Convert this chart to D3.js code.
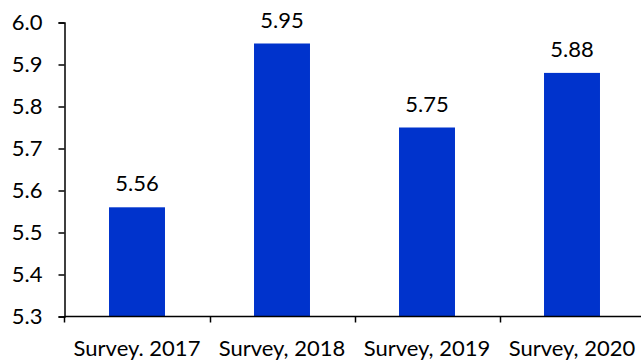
<!DOCTYPE html>
<html>
<head>
<meta charset="utf-8">
<script src="https://cdn.jsdelivr.net/npm/d3@7/dist/d3.min.js"></script>
<style>
  html, body { margin: 0; padding: 0; background: #fff; }
  svg { display: block; }
  text { font-family: Lato, "Open Sans", sans-serif; fill: #000; }
</style>
</head>
<body>
<svg id="chart" width="641" height="364"></svg>
<script>
// Survey results by year
const categories = ["Survey. 2017", "Survey, 2018", "Survey, 2019", "Survey, 2020"];
const values = [5.56, 5.95, 5.75, 5.88];
const yTicks = [5.3, 5.4, 5.5, 5.6, 5.7, 5.8, 5.9, 6.0];

const svg = d3.select("#chart");
const fontSize = 22;

const x = d3.scaleBand()
  .domain(categories)
  .range([64.5, 644.5])
  .paddingInner(0.614)
  .paddingOuter(0.307);

const y = d3.scaleLinear()
  .domain([5.3, 6.0])
  .range([316.5, 22.5]);

// bars
svg.append("g")
  .selectAll("rect")
  .data(values)
  .join("rect")
  .attr("x", (d, i) => x(categories[i]))
  .attr("y", d => y(d))
  .attr("width", x.bandwidth())
  .attr("height", d => y(5.3) - y(d))
  .attr("fill", "#0033cc");

// value labels
svg.append("g")
  .selectAll("text")
  .data(values)
  .join("text")
  .attr("x", (d, i) => x(categories[i]) + x.bandwidth() / 2)
  .attr("y", d => y(d) - 16)
  .attr("text-anchor", "middle")
  .attr("font-size", fontSize)
  .text(d => d.toFixed(2));

// y axis
const yAxis = svg.append("g")
  .attr("transform", "translate(64.5,0)")
  .call(d3.axisLeft(y).tickValues(yTicks).tickFormat(d3.format(".1f")).tickSize(6).tickPadding(16));
yAxis.select(".domain").attr("stroke", "#000").attr("stroke-width", 1.5);
yAxis.selectAll(".tick line").attr("stroke", "#000").attr("stroke-width", 1.5);
yAxis.selectAll(".tick text")
  .attr("font-size", fontSize)
  .attr("font-family", "Lato, sans-serif")
  .attr("fill", "#000");

// x axis with ticks on band boundaries
const bounds = categories.map(c => x(c) - x.step() * x.paddingInner() / 2);
const xAxisG = svg.append("g").attr("transform", "translate(0,316.5)");
xAxisG.append("line")
  .attr("x1", 64.5).attr("x2", 641)
  .attr("stroke", "#000").attr("stroke-width", 1.5);
xAxisG.selectAll(".btick")
  .data(bounds)
  .join("line")
  .attr("class", "btick")
  .attr("x1", d => Math.round(d) + 0.5).attr("x2", d => Math.round(d) + 0.5)
  .attr("y1", 0).attr("y2", 6)
  .attr("stroke", "#000").attr("stroke-width", 1.5);
xAxisG.selectAll(".clabel")
  .data(categories)
  .join("text")
  .attr("class", "clabel")
  .attr("x", d => x(d) + x.bandwidth() / 2)
  .attr("y", 39)
  .attr("text-anchor", "middle")
  .attr("font-size", fontSize)
  .text(d => d);
</script>
</body>
</html>
